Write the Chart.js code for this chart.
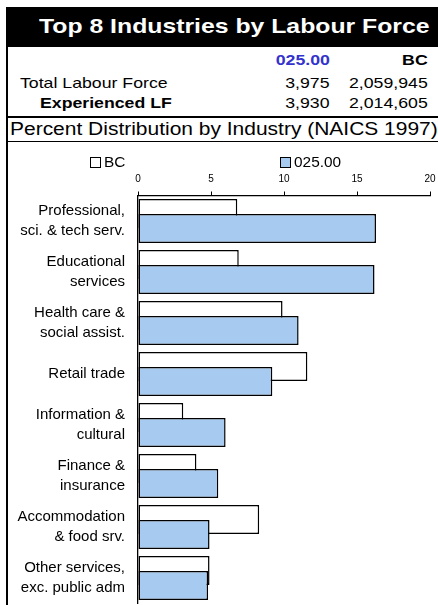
<!DOCTYPE html>
<html>
<head>
<meta charset="utf-8">
<script src="https://cdn.jsdelivr.net/npm/chart.js@4.4.0/dist/chart.umd.min.js"></script>
<style>
  body { margin: 0; width: 438px; height: 605px; overflow: hidden; background: #fff;
         font-family: "Liberation Sans", Arial, sans-serif; position: relative; color: #000; }
  .abs { position: absolute; white-space: nowrap; }
  .sl { transform: scaleX(1.18); transform-origin: left center; }
  .sr { transform: scaleX(1.18); transform-origin: right center; }
  #titlebar { left: 6px; top: 7px; width: 432px; height: 40px; background: #000; }
  #title { left: 39px; top: 11px; font-size: 21px; font-weight: bold; color: #fff; line-height: 30px; }
  .row { font-size: 15px; line-height: 18px; }
  .r1 { right: 108px; }
  .r2 { right: 10px; }
  #lborder { left: 6px; top: 47px; width: 1.5px; height: 558px; background: #000; }
  #line1 { left: 6px; top: 116px; width: 432px; height: 2px; background: #000; }
  #subtitle { left: 10px; top: 118px; font-size: 18px; line-height: 22px; transform: scaleX(1.165); transform-origin: left center; }
  #line2 { left: 6px; top: 140.5px; width: 432px; height: 1.2px; background: #000; }
  #chart { position: absolute; left: 8px; top: 142px; }
  .lg { font-size: 14px; line-height: 16px; transform: scaleX(1.1); transform-origin: left center; }
  .box { position: absolute; width: 9px; height: 9px; border: 1px solid #000; }
</style>
</head>
<body>
<div class="abs" id="titlebar"></div>
<div class="abs sl" id="title">Top 8 Industries by Labour Force</div>
<div class="abs" id="lborder"></div>
<div class="abs row r1 sr" style="top:51px;font-weight:bold;color:#3333cc;">025.00</div>
<div class="abs row r2 sr" style="top:51px;font-weight:bold;">BC</div>
<div class="abs row sl" style="top:74px;left:20px;">Total Labour Force</div>
<div class="abs row r1 sr" style="top:74px;">3,975</div>
<div class="abs row r2 sr" style="top:74px;">2,059,945</div>
<div class="abs row sl" style="top:94px;left:40px;font-weight:bold;">Experienced LF</div>
<div class="abs row r1 sr" style="top:94px;">3,930</div>
<div class="abs row r2 sr" style="top:94px;">2,014,605</div>
<div class="abs" id="line1"></div>
<div class="abs" id="subtitle">Percent Distribution by Industry (NAICS 1997)</div>
<div class="abs" id="line2"></div>
<canvas id="chart" width="430" height="463"></canvas>
<div id="legend"></div>

<script>
const categories = [
  ["Professional,", "sci. & tech serv."],
  ["Educational", "services"],
  ["Health care &", "social assist."],
  ["Retail trade"],
  ["Information &", "cultural"],
  ["Finance &", "insurance"],
  ["Accommodation", "& food srv."],
  ["Other services,", "exc. public adm"]
];
const seriesNames = ["BC", "025.00"];
const bcValues = [6.8, 6.9, 9.9, 11.6, 3.1, 4.0, 8.3, 4.9];
const areaValues = [16.3, 16.2, 11.0, 9.2, 6.0, 5.5, 4.9, 4.8];
const xTicks = [0, 5, 10, 15, 20];
const seriesColors = ["#ffffff", "#a6caf0"];

Chart.defaults.font.family = "'Liberation Sans', Arial, sans-serif";
Chart.defaults.color = "#000";

// draw BC first so the 025.00 bars sit on top of it
const drawInOrder = {
  id: "drawInOrder",
  beforeDatasetsDraw(chart) {
    chart.getSortedVisibleDatasetMetas().forEach(m => m.controller.draw());
    return false;
  }
};

const chart = new Chart("chart", {
  type: "bar",
  data: {
    labels: categories,
    datasets: [
      { label: seriesNames[0], data: bcValues, backgroundColor: seriesColors[0] },
      { label: seriesNames[1], data: areaValues, backgroundColor: seriesColors[1] }
    ]
  },
  options: {
    indexAxis: "y",
    responsive: false,
    animation: false,
    datasets: {
      bar: {
        borderColor: "#000",
        borderWidth: 1.5,
        borderSkipped: false,
        categoryPercentage: 0.59,
        barPercentage: 1.93
      }
    },
    layout: { padding: { left: 0, right: 8, top: 0, bottom: 1.5 } },
    plugins: {
      legend: { display: false },
      tooltip: { enabled: false }
    },
    scales: {
      x: {
        position: "top",
        min: 0,
        max: 20,
        afterBuildTicks: s => { s.ticks = xTicks.map(v => ({ value: v })); },
        afterFit: s => { s.height = 53.5; s.paddingLeft = 0; s.paddingRight = 0; },
        ticks: { padding: 6, font: { size: 10 } },
        grid: { drawOnChartArea: false, tickLength: 4, color: "#000", lineWidth: 1 },
        border: { color: "#000", width: 1.3 }
      },
      y: {
        afterFit: s => { s.width = 130; s.paddingTop = 0; s.paddingBottom = 0; },
        grid: { display: false, drawTicks: false },
        border: { color: "#000", width: 1.3 },
        ticks: { padding: 13, font: { size: 15, lineHeight: 1.33 } }
      }
    }
  },
  plugins: [drawInOrder]
});

// legend, built from the datasets
const legendPos = [{ box: 90, text: 104 }, { box: 280, text: 294 }];
const legend = document.getElementById("legend");
chart.data.datasets.forEach((ds, i) => {
  const b = document.createElement("div");
  b.className = "box";
  b.style.left = legendPos[i].box + "px";
  b.style.top = "157px";
  b.style.background = ds.backgroundColor;
  legend.appendChild(b);
  const t = document.createElement("div");
  t.className = "abs lg";
  t.style.left = legendPos[i].text + "px";
  t.style.top = "154px";
  t.textContent = ds.label;
  legend.appendChild(t);
});
</script>
</body>
</html>
